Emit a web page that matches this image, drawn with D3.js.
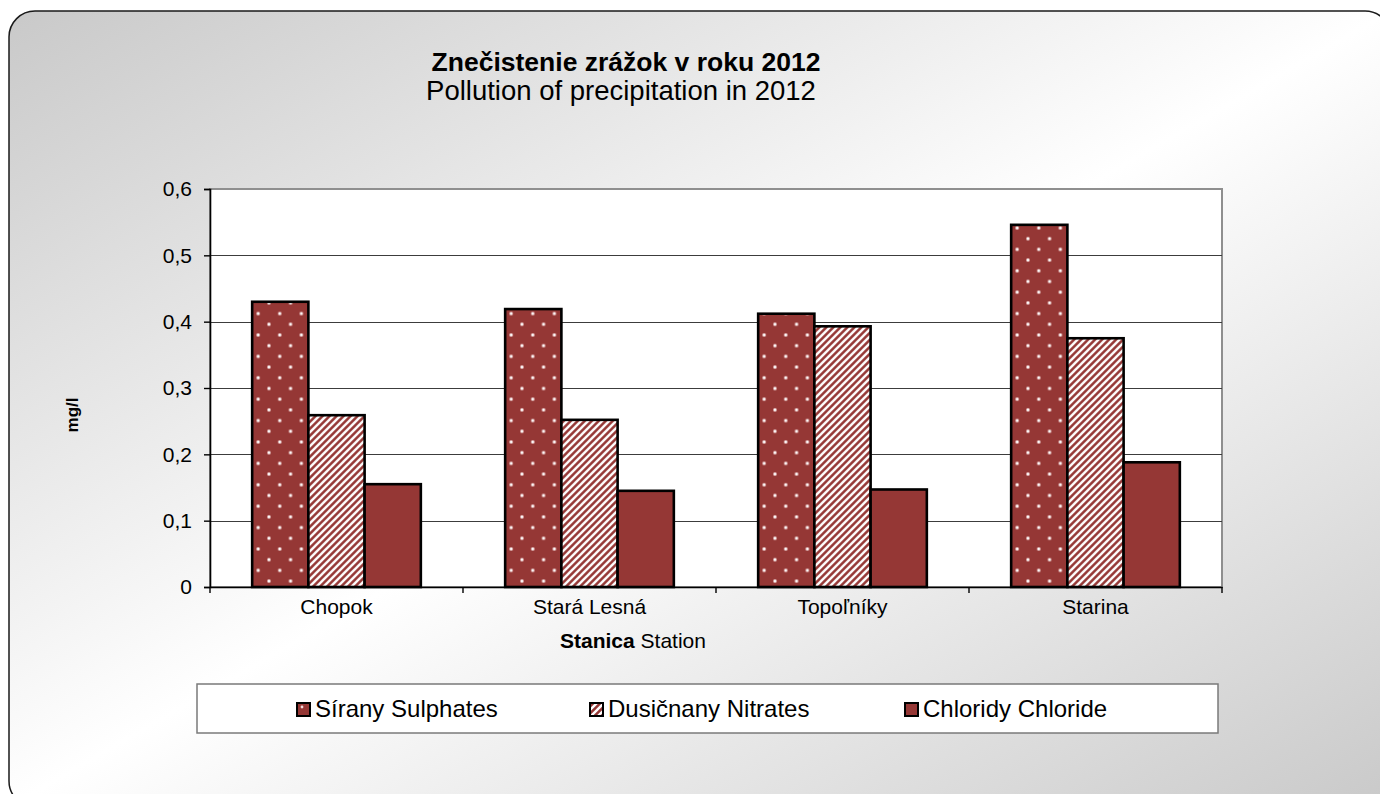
<!DOCTYPE html>
<html>
<head>
<meta charset="utf-8">
<script src="https://cdn.jsdelivr.net/npm/d3@7/dist/d3.min.js"></script>
<style>
  html, body { margin: 0; padding: 0; background: #ffffff; overflow: hidden; }
  svg { display: block; font-family: "Liberation Sans", Arial, sans-serif; }
</style>
</head>
<body>
<svg id="chart" width="1380" height="794"></svg>
<script>
// Station names and measured mean concentrations (mg/l)
const categories = ["Chopok", "Stará Lesná", "Topoľníky", "Starina"];
const sulphates = [0.430, 0.419, 0.412, 0.546];
const nitrates  = [0.259, 0.252, 0.393, 0.375];
const chlorides = [0.155, 0.145, 0.147, 0.188];
const seriesNames = ["Sírany Sulphates", "Dusičnany Nitrates", "Chloridy Chloride"];
const yTickValues = [0, 0.1, 0.2, 0.3, 0.4, 0.5, 0.6];
const yTickLabels = ["0", "0,1", "0,2", "0,3", "0,4", "0,5", "0,6"];

const seriesKeys = ["s", "n", "c"];
const seriesValues = [sulphates, nitrates, chlorides];
const rows = categories.map((cat, i) => ({
  cat,
  vals: seriesKeys.map((k, j) => ({ key: k, value: seriesValues[j][i] }))
}));

const plot = { left: 210, right: 1222, top: 189, bottom: 587 };
const RED = "#953735";

const svg = d3.select("#chart");
const defs = svg.append("defs");

// Chart background: diagonal grey → white → grey
const bg = defs.append("linearGradient").attr("id", "bgGrad")
  .attr("x1", 0).attr("y1", 0).attr("x2", 1).attr("y2", 1);
bg.append("stop").attr("offset", 0).attr("stop-color", "#c9c9c9");
bg.append("stop").attr("offset", 0.5).attr("stop-color", "#ffffff");
bg.append("stop").attr("offset", 1).attr("stop-color", "#c9c9c9");

// Dotted fill (sulphates)
const dots = defs.append("pattern").attr("id", "dots")
  .attr("patternUnits", "userSpaceOnUse")
  .attr("x", 16.8).attr("y", 3.3)
  .attr("width", 21.6).attr("height", 21.4);
dots.append("rect").attr("width", 21.6).attr("height", 21.4).attr("fill", RED);
[[0, 0], [21.6, 0], [0, 21.4], [21.6, 21.4], [10.8, 10.7]].forEach(([cx, cy]) => {
  dots.append("circle").attr("cx", cx).attr("cy", cy).attr("r", 2.0).attr("fill", "#d9a9a8");
  dots.append("circle").attr("cx", cx).attr("cy", cy).attr("r", 1.1).attr("fill", "#ffffff");
});

// Upward diagonal stripes (nitrates)
const stripes = defs.append("pattern").attr("id", "stripes")
  .attr("patternUnits", "userSpaceOnUse")
  .attr("width", 7).attr("height", 7);
stripes.append("rect").attr("width", 7).attr("height", 7).attr("fill", RED);
stripes.append("path")
  .attr("d", "M-1,8 L8,-1 M-4.5,4.5 L4.5,-4.5 M2.5,11.5 L11.5,2.5")
  .attr("stroke", "#ffffff").attr("stroke-width", 2.4);

// Legend swatch for sulphates: one dot
const dotSw = defs.append("pattern").attr("id", "dotSwatch")
  .attr("patternUnits", "objectBoundingBox").attr("width", 1).attr("height", 1);
dotSw.append("rect").attr("width", 13).attr("height", 13).attr("fill", RED);
dotSw.append("circle").attr("cx", 5).attr("cy", 4).attr("r", 1.4).attr("fill", "#f3dcdc");

const fills = { s: "url(#dots)", n: "url(#stripes)", c: RED };
const swatchFills = ["url(#dotSwatch)", "url(#stripes)", RED];

// Chart area frame
svg.append("rect")
  .attr("x", 9).attr("y", 11).attr("width", 1382).attr("height", 796)
  .attr("rx", 26).attr("ry", 26)
  .attr("fill", "url(#bgGrad)")
  .attr("stroke", "#1a1a1a").attr("stroke-width", 1.5);

// Scales
const yScale = d3.scaleLinear().domain([0, 0.6]).range([plot.bottom, plot.top]);
const catScale = d3.scaleBand().domain(categories).range([plot.left, plot.right]).padding(0);
const x0 = d3.scaleBand().domain(categories).range([plot.left, plot.right])
  .paddingInner(1 / 3).paddingOuter(1 / 6);
const x1 = d3.scaleBand().domain(seriesKeys).range([0, x0.bandwidth()]);

// Plot area
svg.append("rect")
  .attr("x", plot.left).attr("y", plot.top)
  .attr("width", plot.right - plot.left).attr("height", plot.bottom - plot.top)
  .attr("fill", "#ffffff").attr("stroke", "#8f8f8f").attr("stroke-width", 2);

// Horizontal gridlines
svg.append("g").selectAll("line")
  .data(yTickValues.filter(v => v > 0 && v < 0.6))
  .join("line")
  .attr("x1", plot.left).attr("x2", plot.right)
  .attr("y1", d => Math.round(yScale(d)) + 0.5).attr("y2", d => Math.round(yScale(d)) + 0.5)
  .attr("stroke", "#3c3c3c").attr("stroke-width", 1.2);

// Bars
const groups = svg.append("g").selectAll("g")
  .data(rows).join("g")
  .attr("transform", d => `translate(${x0(d.cat)},0)`);
groups.selectAll("rect")
  .data(d => d.vals).join("rect")
  .attr("x", d => x1(d.key))
  .attr("y", d => yScale(d.value))
  .attr("width", x1.bandwidth())
  .attr("height", d => yScale(0) - yScale(d.value))
  .attr("fill", d => fills[d.key])
  .attr("stroke", "#000000").attr("stroke-width", 2.6);

// Y axis
const yAxis = svg.append("g")
  .attr("transform", `translate(${plot.left},0)`)
  .call(d3.axisLeft(yScale).tickValues(yTickValues).tickSize(6).tickPadding(12)
    .tickFormat((d, i) => yTickLabels[i]));
yAxis.select(".domain").attr("stroke", "#000").attr("stroke-width", 1.6);
yAxis.selectAll(".tick line").attr("stroke", "#000").attr("stroke-width", 1.4);
yAxis.selectAll(".tick text").attr("font-size", 21).attr("fill", "#000")
  .attr("font-family", "Liberation Sans, Arial, sans-serif");

// X axis: labels centred in each category, ticks on category boundaries
const xAxis = svg.append("g")
  .attr("transform", `translate(0,${plot.bottom})`)
  .call(d3.axisBottom(catScale).tickSize(0).tickPadding(12).tickSizeOuter(0));
xAxis.select(".domain").attr("stroke", "#000").attr("stroke-width", 1.6);
xAxis.selectAll(".tick text").attr("font-size", 21).attr("fill", "#000")
  .attr("font-family", "Liberation Sans, Arial, sans-serif");
const boundaries = categories.map(c => catScale(c)).concat([catScale.range()[1]]);
xAxis.selectAll(".bound").data(boundaries).join("line")
  .attr("class", "bound")
  .attr("x1", d => d).attr("x2", d => d)
  .attr("y1", 0).attr("y2", 6)
  .attr("stroke", "#000").attr("stroke-width", 1.4);

// Titles
svg.append("text")
  .attr("x", 626).attr("y", 71).attr("text-anchor", "middle")
  .attr("font-size", 26.5).attr("font-weight", "bold").attr("fill", "#000")
  .text("Znečistenie zrážok v roku 2012");
svg.append("text")
  .attr("x", 621).attr("y", 100).attr("text-anchor", "middle")
  .attr("font-size", 27.5).attr("fill", "#000")
  .text("Pollution of precipitation in 2012");

const xTitle = svg.append("text")
  .attr("x", 633).attr("y", 648).attr("text-anchor", "middle")
  .attr("font-size", 21).attr("fill", "#000");
xTitle.append("tspan").attr("font-weight", "bold").text("Stanica");
xTitle.append("tspan").text(" Station");

svg.append("text")
  .attr("transform", "translate(78,415) rotate(-90)")
  .attr("text-anchor", "middle")
  .attr("font-size", 17).attr("font-weight", "bold").attr("fill", "#000")
  .text("mg/l");

// Legend
const legend = svg.append("g");
legend.append("rect")
  .attr("x", 197).attr("y", 684).attr("width", 1021).attr("height", 49)
  .attr("fill", "#ffffff").attr("stroke", "#7a7a7a").attr("stroke-width", 1.5);
const legendX = [297, 590, 905];
const items = legend.selectAll("g.item")
  .data(seriesNames).join("g").attr("class", "item")
  .attr("transform", (d, i) => `translate(${legendX[i]},703)`);
items.append("rect")
  .attr("width", 13).attr("height", 13)
  .attr("fill", (d, i) => swatchFills[i])
  .attr("stroke", "#000").attr("stroke-width", 2);
items.append("text")
  .attr("x", 18).attr("y", 14)
  .attr("font-size", 24).attr("fill", "#000")
  .text(d => d);
</script>
</body>
</html>
